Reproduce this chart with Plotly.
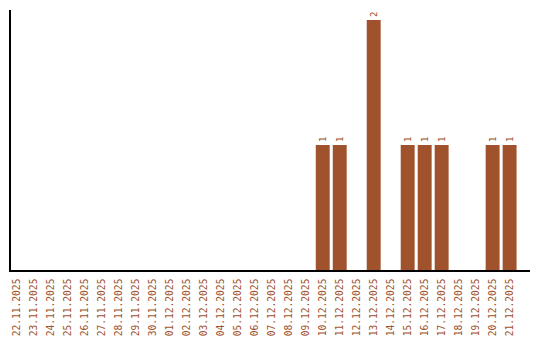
import plotly.graph_objects as go

dates = ["22.11.2025","23.11.2025","24.11.2025","25.11.2025","26.11.2025","27.11.2025",
         "28.11.2025","29.11.2025","30.11.2025","01.12.2025","02.12.2025","03.12.2025",
         "04.12.2025","05.12.2025","06.12.2025","07.12.2025","08.12.2025","09.12.2025",
         "10.12.2025","11.12.2025","12.12.2025","13.12.2025","14.12.2025","15.12.2025",
         "16.12.2025","17.12.2025","18.12.2025","19.12.2025","20.12.2025","21.12.2025"]
values = [0,0,0,0,0,0,0,0,0,0,0,0,0,0,0,0,0,0,1,1,0,2,0,1,1,1,0,0,1,1]

color = "#A0522D"
labels = [str(v) if v else "" for v in values]

fig = go.Figure(go.Bar(
    x=dates, y=values, marker_color=color, marker_line_width=0,
    text=labels, textposition="outside", textangle=-90, cliponaxis=False,
    textfont=dict(family="DejaVu Sans Mono", size=9, color=color),
))
fig.update_layout(
    width=540, height=340, margin=dict(l=11, r=10, t=10, b=70),
    plot_bgcolor="white", paper_bgcolor="white", bargap=0.18, showlegend=False,
    font=dict(family="DejaVu Sans Mono", size=9.6, color=color),
)
fig.update_xaxes(type="category", range=[-0.35, 30.2], tickangle=-90, showline=True,
                 linecolor="black", linewidth=1.5, showgrid=False, ticks="",
                 ticklabelstandoff=3, automargin=False,
                 tickfont=dict(size=9.6, color=color))
fig.update_yaxes(range=[0, 2.08], showline=True, linecolor="black", linewidth=1.5,
                 showgrid=False, showticklabels=False, ticks="", zeroline=False,
                 automargin=False)
fig.write_html("out.html")
